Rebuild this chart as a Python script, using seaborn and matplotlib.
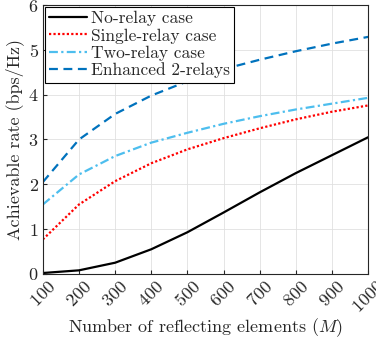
import matplotlib
matplotlib.use("Agg")
import matplotlib.pyplot as plt
import pandas as pd
import seaborn as sns

elements = [100, 200, 300, 400, 500, 600, 700, 800, 900, 1000]
no_relay = [0.02, 0.08, 0.25, 0.55, 0.93, 1.37, 1.82, 2.25, 2.65, 3.05]
single_relay = [0.77, 1.55, 2.07, 2.47, 2.78, 3.03, 3.25, 3.45, 3.62, 3.76]
two_relay = [1.55, 2.22, 2.63, 2.93, 3.15, 3.35, 3.52, 3.67, 3.80, 3.93]
enhanced = [2.05, 3.00, 3.57, 3.98, 4.30, 4.57, 4.78, 4.97, 5.14, 5.29]

series_names = ["No-relay case", "Single-relay case", "Two-relay case", "Enhanced 2-relays"]

sns.set_style("ticks")
plt.rcParams["font.family"] = ["cmr10", "DejaVu Serif"]
plt.rcParams["mathtext.fontset"] = "cm"
plt.rcParams["axes.formatter.use_mathtext"] = True

df = pd.DataFrame({
    "M": elements * 4,
    "rate": no_relay + single_relay + two_relay + enhanced,
    "case": sum([[n] * len(elements) for n in series_names], []),
})

palette = {
    "No-relay case": "black",
    "Single-relay case": "#FF0000",
    "Two-relay case": "#4DBEEE",
    "Enhanced 2-relays": "#0072BD",
}
dashes = {
    "No-relay case": "",
    "Single-relay case": (1, 1),
    "Two-relay case": (4, 1.5, 1, 1.5),
    "Enhanced 2-relays": (4, 2.5),
}

fig = plt.figure(figsize=(3.76, 3.39), dpi=100)
ax = fig.add_axes([0.114, 0.192, 0.865, 0.793])
sns.lineplot(data=df, x="M", y="rate", hue="case", style="case",
             palette=palette, dashes=dashes, linewidth=1.6, ax=ax)

ax.set_xlim(100, 1000)
ax.set_ylim(0, 6)
ax.set_xticks(elements)
ax.set_yticks(range(0, 7))
ax.tick_params(axis="x", labelrotation=45, labelsize=13, direction="in", length=3, pad=3)
ax.tick_params(axis="y", labelsize=13, direction="in", length=3, pad=3)
for lab in ax.get_xticklabels():
    lab.set_ha("center")
    lab.set_va("top")
ax.grid(True, color="#e0e0e0", linewidth=0.6)
ax.set_axisbelow(True)
for s in ax.spines.values():
    s.set_color("#262626")
    s.set_linewidth(0.8)
ax.set_xlabel("Number of reflecting elements ($M$)", fontsize=13, labelpad=0)
ax.set_ylabel("Achievable rate (bps/Hz)", fontsize=13, labelpad=3)

leg = ax.legend(loc="upper left", fontsize=12.5, frameon=True, fancybox=False,
                edgecolor="black", framealpha=1, borderaxespad=0.1,
                handlelength=2.2, handletextpad=0.2, labelspacing=0.1,
                borderpad=0.25)
leg.get_frame().set_linewidth(0.8)

fig.savefig("out.png", dpi=100)
